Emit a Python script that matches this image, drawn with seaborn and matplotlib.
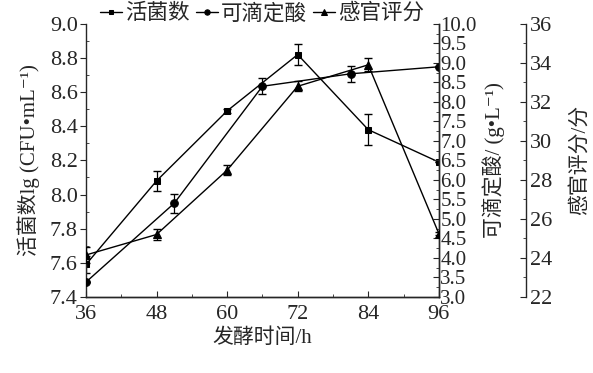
import numpy as np
import pandas as pd
import seaborn as sns
import matplotlib.pyplot as plt
from matplotlib.ticker import MultipleLocator

# data
hours = [36, 48, 60, 72, 84, 96]
viable = [7.59, 8.08, 8.49, 8.82, 8.38, 8.19]
viable_err = [0.05, 0.06, 0.01, 0.06, 0.09, 0.0]

acid_hours = [36, 51, 66, 81, 96]
acid = [3.38, 5.40, 8.40, 8.72, 8.90]
acid_err = [0.0, 0.24, 0.20, 0.20, 0.0]

score = [24.15, 25.2, 28.5, 32.8, 33.9, 25.25]
score_err = [0.4, 0.3, 0.27, 0.26, 0.34, 0.1]

sns.set_style('ticks')
plt.rcParams['font.family'] = ['Liberation Serif', 'Noto Sans CJK SC', 'DejaVu Serif']
plt.rcParams['axes.linewidth'] = 1.0

fig = plt.figure(figsize=(5.93, 3.73), dpi=100)
ax = fig.add_axes([0.145, 0.204, 0.595, 0.732])
ax2 = ax.twinx()
ax3 = ax.twinx()
ax3.spines['right'].set_position(('axes', 1.246))

df1 = pd.DataFrame({'h': hours, 'v': viable})
df2 = pd.DataFrame({'h': acid_hours, 'v': acid})
df3 = pd.DataFrame({'h': hours, 'v': score})

sns.lineplot(data=df1, x='h', y='v', ax=ax, color='black', lw=1, marker='s',
             markersize=5, markeredgecolor='black', label='活菌数', legend=False)
sns.lineplot(data=df2, x='h', y='v', ax=ax2, color='black', lw=1, marker='o',
             markersize=5.5, markeredgecolor='black', label='可滴定酸', legend=False)
sns.lineplot(data=df3, x='h', y='v', ax=ax3, color='black', lw=1, marker='^',
             markersize=5.5, markeredgecolor='black', label='感官评分', legend=False)

ax.errorbar(hours, viable, yerr=viable_err, fmt='none', ecolor='black', elinewidth=0.9, capsize=3)
ax2.errorbar(acid_hours, acid, yerr=acid_err, fmt='none', ecolor='black', elinewidth=0.9, capsize=3)
ax3.errorbar(hours, score, yerr=score_err, fmt='none', ecolor='black', elinewidth=0.9, capsize=3)

ax.set_xlim(36, 96)
ax.set_ylim(7.4, 9.0)
ax2.set_ylim(3.0, 10.0)
ax3.set_ylim(22, 36)

ax.xaxis.set_major_locator(MultipleLocator(12))
ax.xaxis.set_minor_locator(MultipleLocator(6))
ax.yaxis.set_major_locator(MultipleLocator(0.2))
ax.yaxis.set_minor_locator(MultipleLocator(0.1))
ax2.yaxis.set_major_locator(MultipleLocator(0.5))
ax2.yaxis.set_minor_locator(MultipleLocator(0.25))
ax3.yaxis.set_major_locator(MultipleLocator(2))
ax3.yaxis.set_minor_locator(MultipleLocator(1))

ax.yaxis.set_major_formatter(plt.FormatStrFormatter('%.1f'))
ax2.yaxis.set_major_formatter(plt.FormatStrFormatter('%.1f'))
ax3.yaxis.set_major_formatter(plt.FormatStrFormatter('%d'))

for a in (ax, ax2, ax3):
    a.spines['top'].set_visible(False)
ax2.spines['left'].set_visible(False)
ax3.spines['left'].set_visible(False)
ax3.spines['bottom'].set_visible(False)

ax.tick_params(axis='x', which='major', direction='in', length=4, labelsize=16, pad=6)
ax.tick_params(axis='x', which='minor', direction='in', length=2.5)
ax.tick_params(axis='y', which='major', direction='out', length=4, labelsize=16, pad=2)
ax.tick_params(axis='y', which='minor', direction='in', length=2.5)
ax2.tick_params(axis='y', which='major', direction='in', length=4, labelsize=15, pad=1)
ax2.tick_params(axis='y', which='minor', direction='in', length=2.5)
ax3.tick_params(axis='y', which='major', direction='in', length=4, labelsize=16, pad=3)
ax3.tick_params(axis='y', which='minor', direction='in', length=2.5)

ax.set_xlabel('发酵时间/h', fontsize=15, labelpad=3)
ax.set_ylabel('活菌数lg (CFU•mL⁻¹)', fontsize=15, labelpad=7)
ax2.set_ylabel('可滴定酸/ (g•L⁻¹)', fontsize=15, labelpad=4)
ax3.set_ylabel('感官评分/分', fontsize=15, labelpad=13)

handles = [ax.get_lines()[0], ax2.get_lines()[0], ax3.get_lines()[0]]
fig.legend(handles, ['活菌数', '可滴定酸', '感官评分'], loc='center', ncol=3,
           bbox_to_anchor=(0.442, 0.963), frameon=False, fontsize=15.5,
           handlelength=1.0, handletextpad=0.15, columnspacing=0.3, borderpad=0,
           markerscale=0.7)

fig.savefig('out.png', dpi=100)
